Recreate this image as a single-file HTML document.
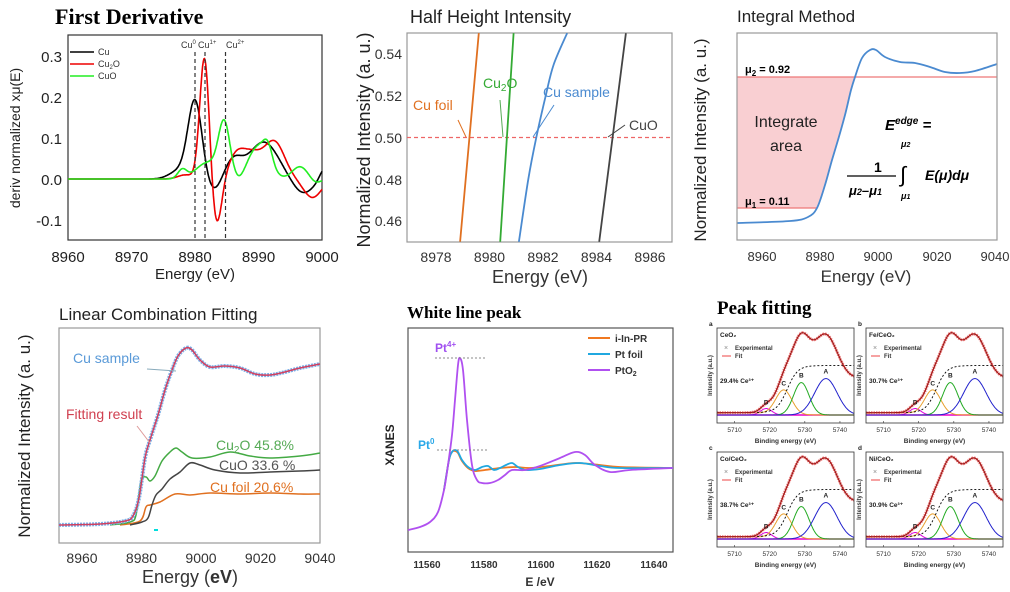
<!DOCTYPE html>
<html><head><meta charset="utf-8"><style>
body{margin:0;background:#fff;width:1010px;height:592px;overflow:hidden}
svg{display:block}
text{font-family:"Liberation Sans",sans-serif}
.t{font-family:"Liberation Serif",serif;font-weight:bold;fill:#000}
</style></head><body>
<svg id="s" width="1010" height="592" viewBox="0 0 1010 592" xmlns="http://www.w3.org/2000/svg">
<rect width="1010" height="592" fill="#fff"/>
<!-- Panel 1 -->
<text class="t" x="55" y="24" font-size="22">First Derivative</text>
<rect x="68" y="35" width="254" height="205" fill="none" stroke="#333" stroke-width="1.2"/>
<g id="p1"></g>
<g font-size="15" fill="#222" text-anchor="middle">
<text x="68" y="262">8960</text><text x="131.5" y="262">8970</text><text x="195" y="262">8980</text><text x="258.5" y="262">8990</text><text x="322" y="262">9000</text>
<text x="195" y="279">Energy (eV)</text></g>
<g font-size="15" fill="#222" text-anchor="end">
<text x="62" y="62">0.3</text><text x="62" y="103">0.2</text><text x="62" y="144">0.1</text><text x="62" y="185">0.0</text><text x="62" y="226">-0.1</text></g>
<text transform="translate(20,138) rotate(-90)" font-size="14" fill="#222" text-anchor="middle">deriv normalized xμ(E)</text>
<g stroke-width="1.6"><line x1="70" y1="52" x2="94" y2="52" stroke="#000"/><line x1="70" y1="64" x2="94" y2="64" stroke="#e00"/><line x1="70" y1="76" x2="94" y2="76" stroke="#2e2"/></g>
<g font-size="9" fill="#333"><text x="98" y="55">Cu</text><text x="98" y="67">Cu<tspan font-size="6" dy="2">2</tspan><tspan dy="-2">O</tspan></text><text x="98" y="79">CuO</text>
<text x="181" y="48">Cu<tspan font-size="6" dy="-4">0</tspan></text><text x="198" y="48">Cu<tspan font-size="6" dy="-4">1+</tspan></text><text x="226" y="48">Cu<tspan font-size="6" dy="-4">2+</tspan></text></g>
<g stroke="#333" stroke-dasharray="4,3" stroke-width="1.2"><line x1="195" y1="52" x2="195" y2="240"/><line x1="205" y1="52" x2="205" y2="240"/><line x1="225.5" y1="52" x2="225.5" y2="240"/></g>

<!-- Panel 2 -->
<text x="410" y="23" font-size="18" fill="#222">Half Height Intensity</text>
<rect x="407" y="33" width="265" height="209" fill="none" stroke="#999" stroke-width="1.2"/>
<line x1="407" y1="137.5" x2="672" y2="137.5" stroke="#e66" stroke-dasharray="4,3" stroke-width="1.2"/>
<g id="p2"></g>
<g font-size="14" fill="#333" text-anchor="end"><text x="402" y="59">0.54</text><text x="402" y="101">0.52</text><text x="402" y="143">0.50</text><text x="402" y="185">0.48</text><text x="402" y="226">0.46</text></g>
<g font-size="14" fill="#333" text-anchor="middle"><text x="436" y="262">8978</text><text x="489.5" y="262">8980</text><text x="543" y="262">8982</text><text x="596.5" y="262">8984</text><text x="650" y="262">8986</text>
<text x="540" y="283" font-size="18">Energy (eV)</text></g>
<text transform="translate(370,140) rotate(-90)" font-size="18" fill="#222" text-anchor="middle">Normalized Intensity (a. u.)</text>
<g font-size="14"><text x="413" y="110" fill="#e07020">Cu foil</text><text x="483" y="88" fill="#3a3">Cu<tspan font-size="10" dy="3">2</tspan><tspan dy="-3">O</tspan></text><text x="543" y="97" fill="#4a8ad0">Cu sample</text><text x="629" y="130" fill="#444">CuO</text></g>
<g stroke-width="1"><line x1="466" y1="137" x2="458" y2="120" stroke="#e07020"/><line x1="503" y1="137" x2="500" y2="100" stroke="#5a5"/><line x1="533" y1="137" x2="554" y2="105" stroke="#4a8ad0"/><line x1="608" y1="137" x2="625" y2="125" stroke="#444"/></g>

<!-- Panel 3 -->
<text x="737" y="22" font-size="17" fill="#222">Integral Method</text>
<g id="p3"></g>
<rect x="737" y="33" width="260" height="207" fill="none" stroke="#999" stroke-width="1.2"/>
<g font-size="13" fill="#333" text-anchor="middle"><text x="762" y="261">8960</text><text x="820" y="261">8980</text><text x="878" y="261">9000</text><text x="937" y="261">9020</text><text x="995" y="261">9040</text>
<text x="866" y="282" font-size="17">Energy (eV)</text></g>
<text transform="translate(706,140) rotate(-90)" font-size="17" fill="#222" text-anchor="middle">Normalized Intensity (a. u.)</text>
<g font-size="11" font-weight="bold" fill="#000"><text x="745" y="73">μ<tspan font-size="8" dy="3">2</tspan><tspan dy="-3"> = 0.92</tspan></text><text x="745" y="205">μ<tspan font-size="8" dy="3">1</tspan><tspan dy="-3"> = 0.11</tspan></text></g>
<g font-size="16" fill="#222" text-anchor="middle"><text x="786" y="127">Integrate</text><text x="786" y="151">area</text></g>
<g font-family="Liberation Serif,serif" font-weight="bold" font-style="italic" fill="#000">
<text x="885" y="130" font-size="15">E<tspan font-size="10" dy="-6">edge</tspan><tspan dy="6"> =</tspan></text>
<text x="874" y="172" font-size="14" font-style="normal">1</text>
<line x1="847" y1="176" x2="896" y2="176" stroke="#000" stroke-width="1.2"/>
<text x="849" y="195" font-size="13">μ<tspan font-size="9">2</tspan>–μ<tspan font-size="9">1</tspan></text>
<text x="900" y="182" font-size="22" font-style="normal" font-weight="normal">∫</text>
<text x="901" y="147" font-size="9">μ<tspan font-size="7">2</tspan></text><text x="901" y="199" font-size="9">μ<tspan font-size="7">1</tspan></text>
<text x="925" y="180" font-size="14">E(μ)dμ</text></g>

<!-- Panel 4 -->
<text x="59" y="320" font-size="17" fill="#222">Linear Combination Fitting</text>
<rect x="59" y="328" width="261" height="215" fill="none" stroke="#999" stroke-width="1.2"/>
<g id="p4"></g>
<g font-size="14" fill="#333" text-anchor="middle"><text x="82" y="563">8960</text><text x="141.5" y="563">8980</text><text x="201" y="563">9000</text><text x="260.5" y="563">9020</text><text x="320" y="563">9040</text>
<text x="190" y="583" font-size="18">Energy (<tspan font-weight="bold">eV</tspan>)</text></g>
<text transform="translate(30,436) rotate(-90)" font-size="17" fill="#222" text-anchor="middle">Normalized Intensity (a. u.)</text>
<g font-size="14"><text x="73" y="363" fill="#5a9ad8">Cu sample</text><text x="66" y="419" fill="#d04050">Fitting result</text>
<text x="216" y="450" fill="#5a5">Cu<tspan font-size="10" dy="3">2</tspan><tspan dy="-3">O 45.8%</tspan></text><text x="219" y="470" fill="#555">CuO 33.6 %</text><text x="210" y="492" fill="#e07020">Cu foil 20.6%</text></g>
<g stroke-width="1"><line x1="147" y1="369" x2="176" y2="371" stroke="#8ab"/><line x1="137" y1="426" x2="150" y2="443" stroke="#d99"/></g>
<line x1="154" y1="530" x2="158" y2="530" stroke="#0dd" stroke-width="2"/>

<!-- Panel 5 -->
<text class="t" x="407" y="318" font-size="17">White line peak</text>
<rect x="408" y="328" width="265" height="224" fill="none" stroke="#555" stroke-width="1.2"/>
<g id="p5"></g>
<g font-size="10" font-weight="bold" fill="#333" text-anchor="middle"><text x="427" y="568">11560</text><text x="484" y="568">11580</text><text x="541" y="568">11600</text><text x="597" y="568">11620</text><text x="654" y="568">11640</text>
<text x="540" y="586" font-size="12">E /eV</text></g>
<text transform="translate(394,445) rotate(-90)" font-size="12" font-weight="bold" fill="#222" text-anchor="middle">XANES</text>
<g stroke="#888" stroke-dasharray="2,2"><line x1="435" y1="358" x2="485" y2="358"/><line x1="437" y1="450" x2="487" y2="450"/></g>
<g font-size="12" font-weight="bold"><text x="435" y="352" fill="#a050f0">Pt<tspan font-size="8" dy="-5">4+</tspan></text><text x="418" y="449" fill="#2aa8e8">Pt<tspan font-size="8" dy="-5">0</tspan></text></g>
<g stroke-width="2"><line x1="588" y1="338" x2="610" y2="338" stroke="#f07820"/><line x1="588" y1="354" x2="610" y2="354" stroke="#20a8e0"/><line x1="588" y1="370" x2="610" y2="370" stroke="#b050f0"/></g>
<g font-size="10" font-weight="bold" fill="#333"><text x="615" y="342">i-In-PR</text><text x="615" y="358">Pt foil</text><text x="615" y="374">PtO<tspan font-size="7" dy="2">2</tspan></text></g>

<!-- Panel 6 -->
<text class="t" x="717" y="314" font-size="19">Peak fitting</text>
<g id="p6"></g>
</svg>
<script>
var NS="http://www.w3.org/2000/svg";
function add(g,tag,a){var e=document.createElementNS(NS,tag);for(var k in a)e.setAttribute(k,a[k]);document.getElementById(g)?document.getElementById(g).appendChild(e):g.appendChild(e);return e;}
function smooth(p){var d="M"+p[0][0]+","+p[0][1];for(var i=0;i<p.length-1;i++){var p0=p[Math.max(i-1,0)],p1=p[i],p2=p[i+1],p3=p[Math.min(i+2,p.length-1)];
d+=" C"+(p1[0]+(p2[0]-p0[0])/6).toFixed(1)+","+(p1[1]+(p2[1]-p0[1])/6).toFixed(1)+" "+(p2[0]-(p3[0]-p1[0])/6).toFixed(1)+","+(p2[1]-(p3[1]-p1[1])/6).toFixed(1)+" "+p2[0]+","+p2[1];}return d;}
function G(x,c,s){return Math.exp(-(x-c)*(x-c)/(2*s*s));}
function fpath(f,a,b,mx,my){var d="";for(var E=a;E<=b+1e-9;E+=(b-a)/400){d+=(d?"L":"M")+mx(E).toFixed(1)+","+my(f(E)).toFixed(1);}return d;}
// Panel 1
var mx1=function(E){return 68+(E-8960)*6.35},my1=function(v){return 179-v*410};
var cu=function(E){return 0.19*G(E,8980,1.1)+0.02*G(E,8977.5,1.5)-0.03*G(E,8983,1.2)+0.045*G(E,8986,1.4)+0.09*G(E,8990.8,2.3)-0.035*G(E,8997,1.6)+0.03*G(E,9000.5,0.8)};
var cu2=function(E){return 0.3*G(E,8981.5,0.75)+0.01*G(E,8978.5,1.2)-0.115*G(E,8983.4,0.8)+0.055*G(E,8986.5,1.3)+0.055*G(E,8989,1.5)+0.09*G(E,8992.5,1.6)-0.045*G(E,8998.5,1.4)};
var cuo=function(E){return 0.022*G(E,8978,0.7)+0.04*G(E,8982,1.8)+0.13*G(E,8984.6,0.9)-0.01*G(E,8987,0.7)+0.08*G(E,8990,1.6)+0.04*G(E,8991.5,0.7)+0.03*G(E,8996.5,1.2)-0.01*G(E,8999,0.8)};
add("p1","path",{d:fpath(cu,8960,9000,mx1,my1),fill:"none",stroke:"#000","stroke-width":1.6});
add("p1","path",{d:fpath(cu2,8960,9000,mx1,my1),fill:"none",stroke:"#e00","stroke-width":1.6});
add("p1","path",{d:fpath(cuo,8960,9000,mx1,my1),fill:"none",stroke:"#2e2","stroke-width":1.6});
// Panel 2
var mx2=function(E){return 436+(E-8978)*26.75},my2=function(v){return 137.5-(v-0.5)*2085};
function ln(g,pts,c,w){add(g,"path",{d:smooth(pts.map(function(p){return [+mx2(p[0]).toFixed(1),+my2(p[1]).toFixed(1)]})),fill:"none",stroke:c,"stroke-width":w||1.8});}
ln("p2",[[8978.9,0.45],[8979.6,0.55]],"#e07020");
ln("p2",[[8980.4,0.45],[8980.9,0.55]],"#3a3");
ln("p2",[[8981.1,0.45],[8981.45,0.48],[8981.75,0.50],[8982.1,0.52],[8982.4,0.535],[8982.9,0.55]],"#4a8ad0");
ln("p2",[[8984.1,0.45],[8985.1,0.55]],"#444");
// Panel 3
var c3=[[737,223],[790,221],[808,217],[817,208],[825,185],[832,160],[838,140],[845,115],[851,90],[855,77],[862,58],[870,50],[876,50],[885,57],[900,62],[915,63],[930,67],[945,72],[960,73],[975,71],[997,64]];
add("p3","path",{d:"M737,77 L855,77 L851,90 L845,115 L838,140 L832,160 L825,185 L817,208 L737,208 Z",fill:"#f9cfd2"});
add("p3","line",{x1:737,y1:77,x2:997,y2:77,stroke:"#e77","stroke-width":1.2});
add("p3","line",{x1:737,y1:208,x2:817,y2:208,stroke:"#e77","stroke-width":1.2});
add("p3","path",{d:smooth(c3),fill:"none",stroke:"#4a8ad0","stroke-width":1.8});
// Panel 4
var s4=[[59,525],[100,524],[125,521],[133,516],[139,498],[145,458],[150,440],[158,415],[165,390],[172,370],[178,356],[186,348],[192,350],[200,360],[210,367],[225,366],[240,368],[255,374],[270,375],[285,372],[300,368],[320,364]];
var a4=[[110,525],[130,522],[136,515],[141,481],[146,477],[150,481],[155,476],[162,461],[170,452],[176,448],[182,452],[192,458],[210,457],[230,452],[250,456],[270,458],[300,456],[320,453]];
var b4=[[130,525],[142,522],[148,518],[152,505],[156,495],[162,489],[170,479],[180,472],[190,463],[200,465],[215,470],[240,473],[270,472],[300,471],[320,470]];
var f4=[[120,525],[140,521],[146,507],[150,505],[160,502],[175,494],[190,495],[210,493],[240,494],[270,493],[300,494],[320,494]];
add("p4","path",{d:smooth(f4),fill:"none",stroke:"#e07020","stroke-width":1.5});
add("p4","path",{d:smooth(b4),fill:"none",stroke:"#444","stroke-width":1.5});
add("p4","path",{d:smooth(a4),fill:"none",stroke:"#4a4","stroke-width":1.5});
add("p4","path",{d:smooth(s4),fill:"none",stroke:"#7ab0e8","stroke-width":4,"stroke-dasharray":"2,1"});
add("p4","path",{d:smooth(s4),fill:"none",stroke:"#d04060","stroke-width":1.5});
// Panel 5
var pt=[[408,530],[420,527],[430,522],[438,512],[444,490],[448,465],[452,435],[455,400],[458,365],[460,358],[463,370],[467,420],[472,465],[477,480],[482,483],[490,483],[498,480],[505,475],[512,470],[525,470],[540,466],[560,458],[575,452],[585,455],[595,465],[610,472],[630,470],[673,468]];
var pf=[[444,490],[449,460],[452,452],[455,450],[458,452],[462,460],[468,467],[475,470],[482,467],[488,466],[494,470],[500,468],[506,465],[512,463],[518,467],[526,470],[540,469],[560,465],[580,463],[600,466],[620,468],[673,468]];
var pi=[[444,490],[449,460],[452,452],[455,451],[458,453],[462,461],[468,468],[475,471],[485,470],[500,468],[515,467],[530,468],[550,466],[575,463],[600,465],[620,467],[673,468]];
add("p5","path",{d:smooth(pi),fill:"none",stroke:"#f07820","stroke-width":1.8});
add("p5","path",{d:smooth(pf),fill:"none",stroke:"#20a8e0","stroke-width":1.8});
add("p5","path",{d:smooth(pt),fill:"none",stroke:"#b050f0","stroke-width":1.8});
// Panel 6
var subs=[[717,328,"a","CeO₂","29.4% Ce³⁺"],[866,328,"b","Fe/CeO₂","30.7% Ce³⁺"],[717,452,"c","Co/CeO₂","38.7% Ce³⁺"],[866,452,"d","Ni/CeO₂","30.9% Ce³⁺"]];
subs.forEach(function(s){
 var x0=s[0],y0=s[1],w=137,h=95;var g=add("p6","g",{});
 var mx=function(E){return x0+(E-5705)/39*w},my=function(v){return y0+h-8-v*(h-14)};
 var exp=function(E){return 0.03+0.0015*(E-5705)+0.06*G(E,5719,2)+0.4/(1+Math.exp(-(E-5724)/1.2))+0.35*G(E,5729,2.5)+0.45*G(E,5736,3.3)+0.18*G(E,5731,6)-0.4/(1+Math.exp(-(E-5738)/3))*0+0.0};
 var step=function(E){return 0.03+0.58/(1+Math.exp(-(E-5725)/1.5))};
 add(g,"line",{x1:x0,y1:my(0),x2:x0+w,y2:my(0),stroke:"#f0a","stroke-width":1.5});
 add(g,"path",{d:fpath(function(E){return 0.08*G(E,5719,1.6)},5705,5744,mx,my),fill:"none",stroke:"#d0d","stroke-width":1});
 add(g,"path",{d:fpath(function(E){return 0.3*G(E,5724,2.3)+0.03*G(E,5712,8)},5705,5744,mx,my),fill:"none",stroke:"#e8a030","stroke-width":1});
 add(g,"path",{d:fpath(function(E){return 0.4*G(E,5729,2.2)},5705,5744,mx,my),fill:"none",stroke:"#2a2","stroke-width":1});
 add(g,"path",{d:fpath(function(E){return 0.45*G(E,5736,3.2)},5705,5744,mx,my),fill:"none",stroke:"#22c","stroke-width":1});
 add(g,"path",{d:fpath(step,5705,5744,mx,my),fill:"none",stroke:"#000","stroke-width":0.9,"stroke-dasharray":"2,2"});
 var ex=function(E){var t=step(E)*0.95+0.08*G(E,5719,1.6)+0.3*G(E,5724,2.3)+0.4*G(E,5729,2.2)+0.45*G(E,5736,3.2)-0.12*G(E,5744,5);return t;};
 add(g,"path",{d:fpath(ex,5705,5744,mx,my),fill:"none",stroke:"#f08080","stroke-width":3,"stroke-dasharray":"1.5,1"});
 add(g,"path",{d:fpath(ex,5705,5744,mx,my),fill:"none",stroke:"#a01818","stroke-width":1.2});
 add(g,"rect",{x:x0,y:y0,width:w,height:h,fill:"none",stroke:"#333","stroke-width":0.8});
 [5710,5720,5730,5740].forEach(function(E){var t=add(g,"text",{x:mx(E),y:y0+h+9,"font-size":6.5,"text-anchor":"middle",fill:"#333"});t.textContent=E;add(g,"line",{x1:mx(E),y1:y0+h,x2:mx(E),y2:y0+h-2,stroke:"#333","stroke-width":0.6});});
 var t=add(g,"text",{x:x0+w/2,y:y0+h+20,"font-size":6.5,"font-weight":"bold","text-anchor":"middle",fill:"#333"});t.textContent="Binding energy (eV)";
 t=add(g,"text",{transform:"translate("+(x0-5)+","+(y0+h/2)+") rotate(-90)","font-size":6,"font-weight":"bold","text-anchor":"middle",fill:"#333"});t.textContent="Intensity (a.u.)";
 t=add(g,"text",{x:x0-8,y:y0-2,"font-size":6.5,"font-weight":"bold",fill:"#222"});t.textContent=s[2];
 t=add(g,"text",{x:x0+3,y:y0+9,"font-size":6.5,"font-weight":"bold",fill:"#222"});t.textContent=s[3];
 t=add(g,"text",{x:x0+7,y:y0+22,"font-size":7,fill:"#888"});t.textContent="×";
 t=add(g,"text",{x:x0+18,y:y0+22,"font-size":6,"font-weight":"bold",fill:"#333"});t.textContent="Experimental";
 add(g,"line",{x1:x0+5,y1:y0+28,x2:x0+14,y2:y0+28,stroke:"#e44","stroke-width":1});
 t=add(g,"text",{x:x0+18,y:y0+30,"font-size":6,"font-weight":"bold",fill:"#333"});t.textContent="Fit";
 t=add(g,"text",{x:x0+3,y:y0+55,"font-size":6.5,"font-weight":"bold",fill:"#222"});t.textContent=s[4];
 [["A",5736,0.5],["B",5729,0.45],["C",5724,0.35],["D",5719,0.12]].forEach(function(l){var q=add(g,"text",{x:mx(l[1]),y:my(l[2])-1,"font-size":6.5,"font-weight":"bold","text-anchor":"middle",fill:"#222"});q.textContent=l[0];});
});
</script>
</body></html>
